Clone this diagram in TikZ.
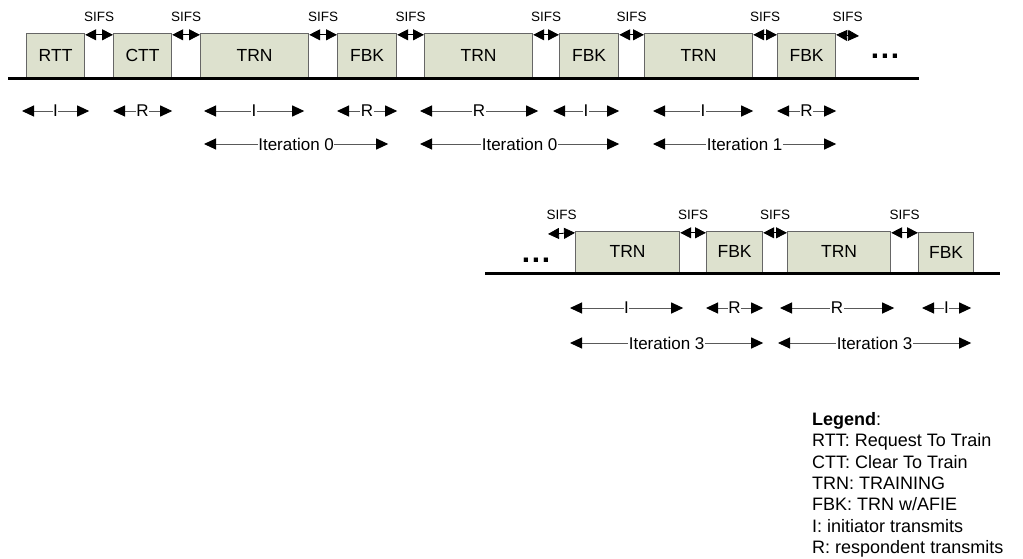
\documentclass[tikz,border=0pt]{standalone}
\usepackage{fontspec}
\setmainfont{Liberation Sans}
\usetikzlibrary{arrows.meta}
\definecolor{framefill}{RGB}{221,225,206}
\newcommand{\moredots}{.\kern1.6pt.\kern1.6pt.}
\begin{document}
\begin{tikzpicture}[x=1pt,y=-1pt,
  frm/.style={draw=black!60, line width=1.2pt, fill=framefill, anchor=south west,
    inner sep=0pt, font=\fontsize{17.5}{21}\selectfont},
  sifs/.style={{Triangle[length=11pt,width=11pt]}-{Triangle[length=11pt,width=11pt]}, line width=0.8pt},
  span/.style={{Triangle[length=12pt,width=11pt,color=black]}-{Triangle[length=12pt,width=11pt,color=black]},
    draw=black!65, line width=1pt},
  lbl/.style={fill=white, inner sep=0.5pt, font=\fontsize{17}{20}\selectfont},
  gaplbl/.style={above=13pt, inner sep=0pt, font=\fontsize{13.5}{16}\selectfont},
  more/.style={inner sep=0pt, font=\fontsize{30}{30}\selectfont\bfseries}]
\useasboundingbox (0,0) rectangle (1023,558);

% first sequence
\node[frm, minimum width=58, minimum height=44] (rtt) at (26,78) {RTT};
\node[frm, minimum width=58, minimum height=44] (ctt) at (113,78) {CTT};
\node[frm, minimum width=108, minimum height=44] (trnA) at (200,78) {TRN};
\node[frm, minimum width=59, minimum height=44] (fbkA) at (337,78) {FBK};
\node[frm, minimum width=108, minimum height=44] (trnB) at (424,78) {TRN};
\node[frm, minimum width=59, minimum height=44] (fbkB) at (559,78) {FBK};
\node[frm, minimum width=108, minimum height=44] (trnC) at (644,78) {TRN};
\node[frm, minimum width=58, minimum height=44] (fbkC) at (777,78) {FBK};
\node[more] (dotsA) at (885,56) {\moredots};
\coordinate (endA) at (859,36);
\draw[line width=3pt] (8,78) -- (919,78);

\draw[sifs] ([yshift=-2]rtt.north east) -- node[gaplbl] {SIFS} ([yshift=-2]ctt.north west);
\draw[sifs] ([yshift=-2]ctt.north east) -- node[gaplbl] {SIFS} ([yshift=-2]trnA.north west);
\draw[sifs] ([yshift=-2]trnA.north east) -- node[gaplbl] {SIFS} ([yshift=-2]fbkA.north west);
\draw[sifs] ([yshift=-2]fbkA.north east) -- node[gaplbl] {SIFS} ([yshift=-2]trnB.north west);
\draw[sifs] ([yshift=-2]trnB.north east) -- node[gaplbl] {SIFS} ([yshift=-2]fbkB.north west);
\draw[sifs] ([yshift=-2]fbkB.north east) -- node[gaplbl] {SIFS} ([yshift=-2]trnC.north west);
\draw[sifs] ([yshift=-2]trnC.north east) -- node[gaplbl] {SIFS} ([yshift=-2]fbkC.north west);
\draw[sifs] ([yshift=-2]fbkC.north east) -- node[gaplbl] {SIFS} (endA);

\coordinate (rowI) at (0,111);
\coordinate (rowIt) at (0,144);
\draw[span] ([xshift=-4]rtt.west |- rowI) -- node[lbl] {I} ([xshift=4]rtt.east |- rowI);
\draw[span] (ctt.west |- rowI) -- node[lbl] {R} (ctt.east |- rowI);
\draw[span] ([xshift=4]trnA.west |- rowI) -- node[lbl] {I} ([xshift=-5]trnA.east |- rowI);
\draw[span] (fbkA.west |- rowI) -- node[lbl] {R} (fbkA.east |- rowI);
\draw[span] ([xshift=-4]trnB.west |- rowI) -- node[lbl] {R} ([xshift=5]trnB.east |- rowI);
\draw[span] ([xshift=-6]fbkB.west |- rowI) -- node[lbl] {I} (fbkB.east |- rowI);
\draw[span] ([xshift=9]trnC.west |- rowI) -- node[lbl] {I} (trnC.east |- rowI);
\draw[span] (fbkC.west |- rowI) -- node[lbl] {R} (fbkC.east |- rowI);

\draw[span] ([xshift=4]trnA.west |- rowIt) -- node[lbl] {Iteration 0} ([xshift=-9]fbkA.east |- rowIt);
\draw[span] ([xshift=-4]trnB.west |- rowIt) -- node[lbl] {Iteration 0} (fbkB.east |- rowIt);
\draw[span] ([xshift=9]trnC.west |- rowIt) -- node[lbl] {Iteration 1} (fbkC.east |- rowIt);

% continued sequence
\node[frm, minimum width=104, minimum height=41] (trnD) at (575,273) {TRN};
\node[frm, minimum width=56, minimum height=41] (fbkD) at (706,273) {FBK};
\node[frm, minimum width=103, minimum height=41] (trnE) at (787,273) {TRN};
\node[frm, minimum width=55, minimum height=40] (fbkE) at (918,273) {FBK};
\node[more] (dotsB) at (536,260) {\moredots};
\coordinate (startB) at (548,234);
\draw[line width=3pt] (485,273) -- (1000,273);

\draw[sifs] (startB) -- node[gaplbl] {SIFS} ([yshift=-2]trnD.north west);
\draw[sifs] ([yshift=-2]trnD.north east) -- node[gaplbl] {SIFS} ([yshift=-2]fbkD.north west);
\draw[sifs] ([yshift=-2]fbkD.north east) -- node[gaplbl] {SIFS} ([yshift=-2]trnE.north west);
\draw[sifs] ([yshift=-2]trnE.north east) -- node[gaplbl] {SIFS} ([yshift=-1]fbkE.north west);

\coordinate (rowII) at (0,308);
\coordinate (rowIIt) at (0,343);
\draw[span] ([xshift=-5]trnD.west |- rowII) -- node[lbl] {I} ([xshift=3]trnD.east |- rowII);
\draw[span] (fbkD.west |- rowII) -- node[lbl] {R} (fbkD.east |- rowII);
\draw[span] ([xshift=-7]trnE.west |- rowII) -- node[lbl] {R} ([xshift=3]trnE.east |- rowII);
\draw[span] ([xshift=4]fbkE.west |- rowII) -- node[lbl] {I} ([xshift=-3]fbkE.east |- rowII);

\draw[span] ([xshift=-5]trnD.west |- rowIIt) -- node[lbl] {Iteration 3} (fbkD.east |- rowIIt);
\draw[span] ([xshift=-9]trnE.west |- rowIIt) -- node[lbl] {Iteration 3} ([xshift=-3]fbkE.east |- rowIIt);

% legend
\node[anchor=north west, inner sep=0pt, align=left, font=\fontsize{18}{21.4}\selectfont] (legend) at (812,412)
  {\textbf{Legend}:\\
   RTT: Request To Train\\
   CTT: Clear To Train\\
   TRN: TRAINING\\
   FBK: TRN w/AFIE\\
   I: initiator transmits\\
   R: respondent transmits};
\end{tikzpicture}
\end{document}
